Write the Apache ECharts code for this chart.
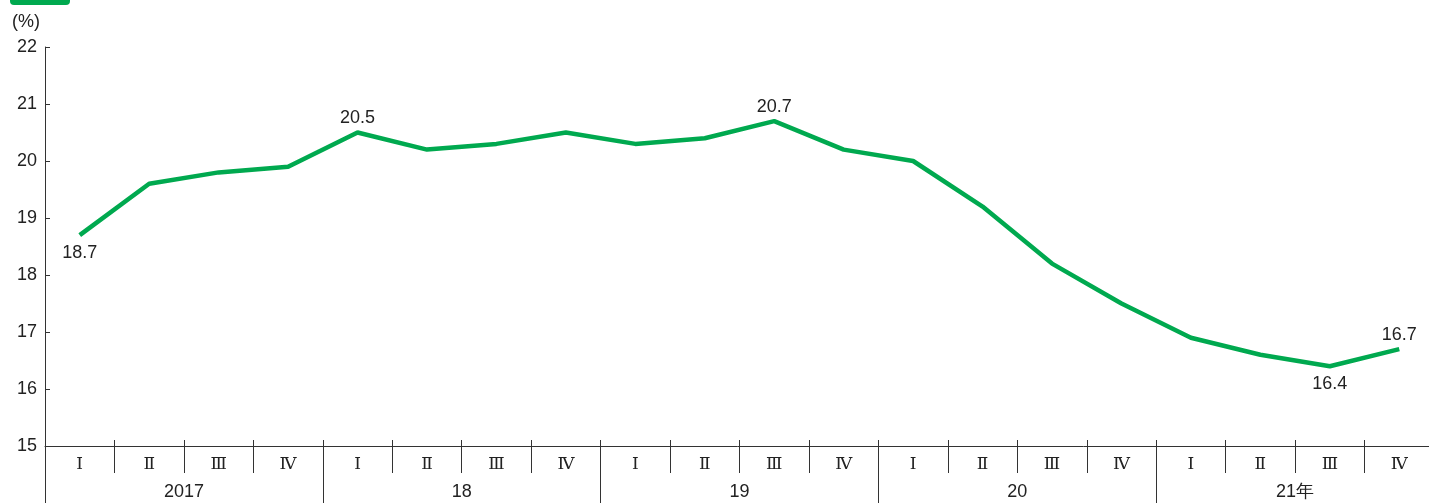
<!DOCTYPE html>
<html>
<head>
<meta charset="utf-8">
<script src="https://cdn.jsdelivr.net/npm/echarts@6/dist/echarts.min.js"></script>
<style>
html,body{margin:0;padding:0;background:#fff;overflow:hidden;}
#chart{width:1429px;height:503px;}
</style>
</head>
<body>
<div id="chart"></div>
<script>
// 四半期ラベルと年ラベル
var quarters=['Ⅰ','Ⅱ','Ⅲ','Ⅳ','Ⅰ','Ⅱ','Ⅲ','Ⅳ','Ⅰ','Ⅱ','Ⅲ','Ⅳ','Ⅰ','Ⅱ','Ⅲ','Ⅳ','Ⅰ','Ⅱ','Ⅲ','Ⅳ'];
var years=['2017','18','19','20','21年'];
var values=[18.7,19.6,19.8,19.9,20.5,20.2,20.3,20.5,20.3,20.4,20.7,20.2,20.0,19.2,18.2,17.5,16.9,16.6,16.4,16.7];
// ラベルを出す点 (index: 上 or 下)
var labelPos={0:'bottom',4:'top',10:'top',18:'bottom',19:'top'};
var yTicks={min:15,max:22,step:1};

var green='#00a94f';
var txtFont="'Liberation Sans Narrow','Liberation Sans',Arial,sans-serif";
var romanFont="'Liberation Serif','DejaVu Serif',serif";

var myChart=echarts.init(document.getElementById('chart'));

var seriesData=values.map(function(v,i){
	var item={value:v};
	if(labelPos[i]){
		item.label={show:true,position:labelPos[i],distance:labelPos[i]=='bottom'?9:5};
	}
	return item;
});

var option={
	animation:false,
	backgroundColor:'#fff',
	grid:{left:45,width:1389,top:47,bottom:57,outerBoundsMode:'none'},
	graphic:[
		{type:'rect',left:10,top:-10,shape:{width:60,height:15,r:4},style:{fill:green}},
		{type:'text',left:12,top:13,style:{text:'(%)',font:'18px '+txtFont,fill:'#222'}}
	],
	xAxis:[
		{
			type:'category',data:quarters,boundaryGap:true,position:'bottom',
			axisLine:{show:true,lineStyle:{color:'#333',width:1}},
			axisTick:{show:true,interval:0,length:27,lineStyle:{color:'#333'}},
			axisLabel:{interval:0,margin:10,fontFamily:romanFont,fontSize:17,color:'#222'}
		},
		{
			type:'category',data:years,boundaryGap:true,position:'bottom',
			axisLine:{show:false},
			axisTick:{show:true,interval:0,length:60,lineStyle:{color:'#333'}},
			axisLabel:{interval:0,margin:37,fontFamily:txtFont,fontSize:18,color:'#222'}
		},
		{
			type:'category',data:quarters,boundaryGap:true,position:'bottom',
			axisLine:{show:false},
			axisTick:{show:true,inside:true,interval:0,length:6,lineStyle:{color:'#333'}},
			axisLabel:{show:false}
		}
	],
	yAxis:{
		type:'value',min:yTicks.min,max:yTicks.max,interval:yTicks.step,
		axisLine:{show:true,lineStyle:{color:'#333',width:1}},
		axisTick:{show:true,inside:true,length:5,lineStyle:{color:'#333'}},
		axisLabel:{margin:8,fontFamily:txtFont,fontSize:18,color:'#222'},
		splitLine:{show:false}
	},
	series:[{
		type:'line',xAxisIndex:0,data:seriesData,
		symbol:'circle',symbolSize:0,showSymbol:true,
		lineStyle:{color:green,width:4.5},
		itemStyle:{color:green},
		label:{show:false,fontFamily:txtFont,fontSize:18,color:'#222'}
	}]
};
myChart.setOption(option);
</script>
</body>
</html>
